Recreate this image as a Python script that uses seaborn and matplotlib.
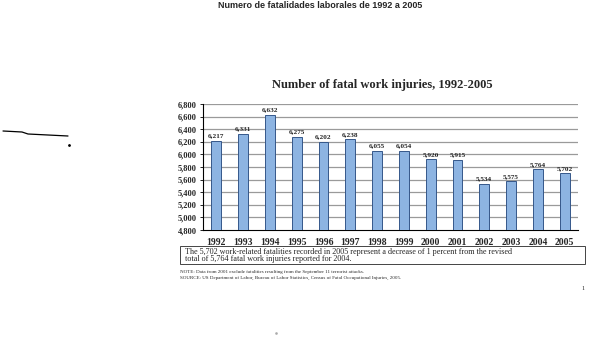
import matplotlib
matplotlib.use("Agg")
import matplotlib.pyplot as plt
import seaborn as sns
import pandas as pd
from matplotlib.lines import Line2D
from matplotlib.patches import Rectangle

years = ["1992", "1993", "1994", "1995", "1996", "1997", "1998", "1999",
         "2000", "2001", "2002", "2003", "2004", "2005"]
fatalities = [6217, 6331, 6632, 6275, 6202, 6238, 6055, 6054,
              5920, 5915, 5534, 5575, 5764, 5702]
yticks = list(range(4800, 6801, 200))

sns.set_theme(style="white")
plt.rcParams['font.family'] = ['Liberation Serif', 'DejaVu Serif']

df = pd.DataFrame({"year": years, "value": fatalities})

fig = plt.figure(figsize=(6, 3.6), dpi=100)
W, H = 600, 360
ax = fig.add_axes([203 / W, 1 - 230 / H, (578 - 203) / W, (230 - 104) / H])

sns.barplot(data=df, x="year", y="value", ax=ax, color="#8DB4E2",
            edgecolor="#35578a", linewidth=0.7, width=0.37, saturation=1, zorder=3)

ax.set_ylim(4800, 6800)
ax.set_xlim(-0.5, len(years) - 0.5)
ax.set_yticks(yticks)
ax.set_yticklabels([f"{v:,}" for v in yticks], fontsize=6, fontweight="bold")
ax.set_xticks(range(len(years)))
ax.set_xticklabels(years, fontsize=7, fontweight="bold")
ax.tick_params(axis="x", which="major", length=0, pad=5.5)
ax.set_xticks([i + 0.5 for i in range(len(years))], minor=True)
ax.tick_params(axis="x", which="minor", length=2.5, width=0.6, color="black", direction="out")
ax.tick_params(axis="y", length=2.5, width=0.6, color="black", direction="out", pad=2, left=True)
ax.set_xlabel("")
ax.set_ylabel("")
for v in yticks[1:]:
    ax.axhline(v, color="#9a9a9a", linewidth=0.9, zorder=1)
for s in ["top", "right"]:
    ax.spines[s].set_visible(False)
ax.spines["left"].set_color("black")
ax.spines["left"].set_linewidth(0.8)
ax.spines["bottom"].set_color("black")
ax.spines["bottom"].set_linewidth(0.8)

for i, v in enumerate(fatalities):
    ax.text(i, v + 40, f"{v:,}", ha="center", va="bottom", fontsize=5.2,
            fontweight="bold", zorder=4)

fig.text(320 / W, 1 - 5 / H, "Numero de fatalidades laborales de 1992 a 2005",
         ha="center", va="center", fontsize=6.5, fontweight="bold",
         family=["Liberation Sans", "DejaVu Sans"])
fig.text(382 / W, 1 - 85 / H, "Number of fatal work injuries, 1992-2005",
         ha="center", va="center", fontsize=9, fontweight="bold")

fig.add_artist(Rectangle((180 / W, 1 - 264 / H), (585 - 180) / W, (264 - 246) / H,
                         transform=fig.transFigure, fill=False, edgecolor="#444444",
                         linewidth=0.7))
fig.text(185 / W, 1 - 255.5 / H,
         "The 5,702 work-related fatalities recorded in 2005 represent a decrease of 1 percent from the revised\n"
         "total of 5,764 fatal work injuries reported for 2004.",
         ha="left", va="center", fontsize=5.9, linespacing=0.95)
fig.text(180 / W, 1 - 272 / H,
         "NOTE: Data from 2001 exclude fatalities resulting from the September 11 terrorist attacks.",
         ha="left", va="center", fontsize=3.6)
fig.text(180 / W, 1 - 278 / H,
         "SOURCE: US Department of Labor, Bureau of Labor Statistics, Census of Fatal Occupational Injuries, 2005.",
         ha="left", va="center", fontsize=3.6)
fig.text(583 / W, 1 - 288 / H, "1", ha="center", va="center", fontsize=4.5)

xs = [3 / W, 22 / W, 28 / W, 68 / W]
ys = [1 - 131 / H, 1 - 132 / H, 1 - 134 / H, 1 - 136 / H]
fig.add_artist(Line2D(xs, ys, transform=fig.transFigure, color="black", linewidth=0.9))
fig.add_artist(Line2D([69 / W], [1 - 145 / H], transform=fig.transFigure, color="black",
                      marker="o", markersize=1.0, linestyle="none"))
fig.add_artist(Line2D([276 / W], [1 - 333 / H], transform=fig.transFigure, color="#aaaaaa",
                      marker="s", markersize=0.8, linestyle="none"))

fig.savefig("out.png", dpi=100, facecolor="white")
